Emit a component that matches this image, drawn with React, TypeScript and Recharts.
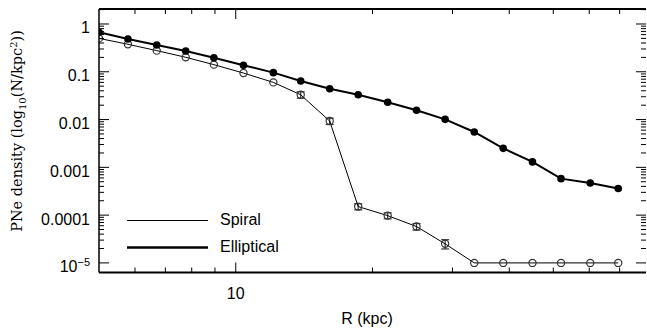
import React from 'react';
import { LineChart, Line, XAxis, YAxis, ErrorBar, Legend } from 'recharts';

// radius (kpc), log-spaced sampling
const R = [5.0, 5.79, 6.7, 7.76, 8.95, 10.4, 12.1, 13.9, 16.1, 18.6, 21.6, 25.0, 28.9, 33.5, 38.8, 45.0, 52.0, 60.3, 69.5];
const ELLIPTICAL = [0.67, 0.485, 0.364, 0.272, 0.197, 0.137, 0.096, 0.064, 0.044, 0.033, 0.023, 0.0157, 0.0101, 0.0055, 0.0025, 0.0013, 0.00058, 0.00047, 0.00036];
const SPIRAL = [0.5, 0.376, 0.277, 0.201, 0.141, 0.094, 0.06, 0.033, 0.0093, 0.000151, 0.0000977, 0.0000577, 0.0000251, 0.00001, 0.00001, 0.00001, 0.00001, 0.00001, 0.00001];
const SPIRAL_ERR = [null, null, null, null, null, null, null, 0.005, 0.0014, 0.000022, 0.000014, 0.000009, 0.0000055, null, null, null, null, null, null];

const X_TICKS = [6, 7, 8, 9, 10, 20, 30, 40, 50, 60, 70];
const X_LABELS: Record<number, string> = { 10: '10' };

const Y_DECADES = [0.00001, 0.0001, 0.001, 0.01, 0.1, 1];
const Y_DECADE_LABELS = ['10', '0.0001', '0.001', '0.01', '0.1', '1'];
const MINOR_STEPS = [2, 3, 4, 5, 6, 7, 8, 9];

const Y_TICKS: number[] = [];
Y_DECADES.forEach((d) => {
  Y_TICKS.push(d);
  MINOR_STEPS.forEach((m) => {
    if (d * m <= 2) Y_TICKS.push(d * m);
  });
});

const rows = R.map((r, i) => ({
  r,
  elliptical: ELLIPTICAL[i],
  spiral: SPIRAL[i],
  spiralErr: SPIRAL_ERR[i],
}));

const FONT = '"Liberation Sans", Arial, sans-serif';
const MAJOR = 10;
const MINOR = 5;

const BottomTick = (props: any) => {
  const { x, y, payload } = props;
  const label = X_LABELS[payload.value];
  return (
    <g>
      <line x1={x} x2={x} y1={y} y2={y - (label ? MAJOR : MINOR)} stroke="#000" strokeWidth={1} />
      {label && (
        <text x={x} y={y + 26} textAnchor="middle" fontSize={16} fontFamily={FONT} fill="#000">
          {label}
        </text>
      )}
    </g>
  );
};

const TopTick = (props: any) => {
  const { x, y, payload } = props;
  const major = X_LABELS[payload.value] !== undefined;
  return <line x1={x} x2={x} y1={y} y2={y + (major ? MAJOR : MINOR)} stroke="#000" strokeWidth={1} />;
};

const LeftTick = (props: any) => {
  const { x, y, payload } = props;
  const idx = Y_DECADES.indexOf(payload.value);
  const major = idx >= 0;
  return (
    <g>
      <line x1={x} x2={x + (major ? MAJOR : MINOR)} y1={y} y2={y} stroke="#000" strokeWidth={1} />
      {major && (
        <text x={x - 9} y={y + 9.5} textAnchor="end" fontSize={16} fontFamily={FONT} fill="#000">
          {Y_DECADE_LABELS[idx]}
          {idx === 0 && (
            <tspan dy={-6} fontSize={11}>
              −5
            </tspan>
          )}
        </text>
      )}
    </g>
  );
};

const RightTick = (props: any) => {
  const { x, y, payload } = props;
  const major = Y_DECADES.indexOf(payload.value) >= 0;
  return <line x1={x} x2={x - (major ? MAJOR : MINOR)} y1={y} y2={y} stroke="#000" strokeWidth={1} />;
};

const OpenDot = (props: any) => {
  const { cx, cy, index } = props;
  if (cx == null || cy == null) return <g key={`s-${index}`} />;
  return <circle key={`s-${index}`} cx={cx} cy={cy} r={3.6} fill="none" stroke="#333" strokeWidth={1.2} />;
};

const FilledDot = (props: any) => {
  const { cx, cy, index } = props;
  if (cx == null || cy == null) return <g key={`e-${index}`} />;
  return <circle key={`e-${index}`} cx={cx} cy={cy} r={3.8} fill="#000" stroke="none" />;
};

const LEGEND_ORDER = ['Spiral', 'Elliptical'];
const LEGEND_WIDTH: Record<string, number> = { Spiral: 1, Elliptical: 2.5 };

const renderLegend = (props: any) => {
  const items = (props.payload || [])
    .filter((item: any) => LEGEND_ORDER.includes(item.value))
    .sort((a: any, b: any) => LEGEND_ORDER.indexOf(a.value) - LEGEND_ORDER.indexOf(b.value));
  return (
    <div style={{ fontFamily: FONT, fontSize: 16, color: '#000' }}>
      {items.map((item: any) => (
        <div key={item.value} style={{ display: 'flex', alignItems: 'center', height: 27 }}>
          <svg width={81} height={27} style={{ display: 'block' }}>
            <line x1={0} x2={81} y1={13.5} y2={13.5} stroke="#000" strokeWidth={LEGEND_WIDTH[item.value]} />
          </svg>
          <span style={{ marginLeft: 12 }}>{item.value}</span>
        </div>
      ))}
    </div>
  );
};

const YTitle = () => (
  <text
    x={0}
    y={0}
    transform="translate(22, 131) rotate(-90)"
    textAnchor="middle"
    fontSize={14.5}
    fontFamily='"DejaVu Serif", serif'
    fill="#000"
  >
    PNe density (log
    <tspan dy={4} fontSize={10}>10</tspan>
    <tspan dy={-4}>(N/kpc</tspan>
    <tspan dy={-5} fontSize={10}>2</tspan>
    <tspan dy={5}>))</tspan>
  </text>
);

const XTitle = () => (
  <text x={367} y={323.5} textAnchor="middle" fontSize={16} fontFamily={FONT} fill="#000">
    R (kpc)
  </text>
);

export default function App() {
  return (
    <div style={{ position: 'absolute', left: 0, top: 0, background: '#fff' }}>
      <LineChart width={647} height={328} data={rows} margin={{ top: 8, right: 0, bottom: 0, left: 0 }}>
        <XAxis
          xAxisId="b"
          dataKey="r"
          type="number"
          scale="log"
          domain={[5, 80]}
          allowDataOverflow
          ticks={X_TICKS}
          interval={0}
          tick={<BottomTick />}
          tickLine={false}
          tickSize={0}
          tickMargin={0}
          height={55.5}
          axisLine={{ stroke: '#000', strokeWidth: 2 }}
          label={<XTitle />}
        />
        <XAxis
          xAxisId="t"
          orientation="top"
          dataKey="r"
          type="number"
          scale="log"
          domain={[5, 80]}
          allowDataOverflow
          ticks={X_TICKS}
          interval={0}
          tick={<TopTick />}
          tickLine={false}
          tickSize={0}
          tickMargin={0}
          height={1}
          axisLine={{ stroke: '#000', strokeWidth: 2 }}
        />
        <YAxis
          yAxisId="l"
          type="number"
          scale="log"
          domain={[0.0000063, 2.06]}
          allowDataOverflow
          ticks={Y_TICKS}
          interval={0}
          tick={<LeftTick />}
          tickLine={false}
          tickSize={0}
          tickMargin={0}
          width={99}
          axisLine={{ stroke: '#000', strokeWidth: 1.5 }}
          label={<YTitle />}
        />
        <YAxis
          yAxisId="r"
          orientation="right"
          type="number"
          scale="log"
          domain={[0.0000063, 2.06]}
          allowDataOverflow
          ticks={Y_TICKS}
          interval={0}
          tick={<RightTick />}
          tickLine={false}
          tickSize={0}
          tickMargin={0}
          width={1}
          axisLine={false}
        />
        <Legend
          layout="vertical"
          align="center"
          verticalAlign="middle"
          content={renderLegend}
          wrapperStyle={{ left: 127, top: 206.5, width: 'auto' }}
        />
        {/* invisible series so the mirrored top/right axes get their scales */}
        <Line
          xAxisId="t"
          yAxisId="r"
          dataKey="elliptical"
          stroke="none"
          dot={false}
          activeDot={false}
          legendType="none"
          isAnimationActive={false}
        />
        <Line
          xAxisId="b"
          yAxisId="l"
          name="Spiral"
          dataKey="spiral"
          stroke="#000"
          strokeWidth={1}
          dot={OpenDot}
          activeDot={false}
          isAnimationActive={false}
        >
          <ErrorBar dataKey="spiralErr" width={4} stroke="#333" strokeWidth={1.2} direction="y" />
        </Line>
        <Line
          xAxisId="b"
          yAxisId="l"
          name="Elliptical"
          dataKey="elliptical"
          stroke="#000"
          strokeWidth={2}
          dot={FilledDot}
          activeDot={false}
          isAnimationActive={false}
        />
      </LineChart>
    </div>
  );
}
